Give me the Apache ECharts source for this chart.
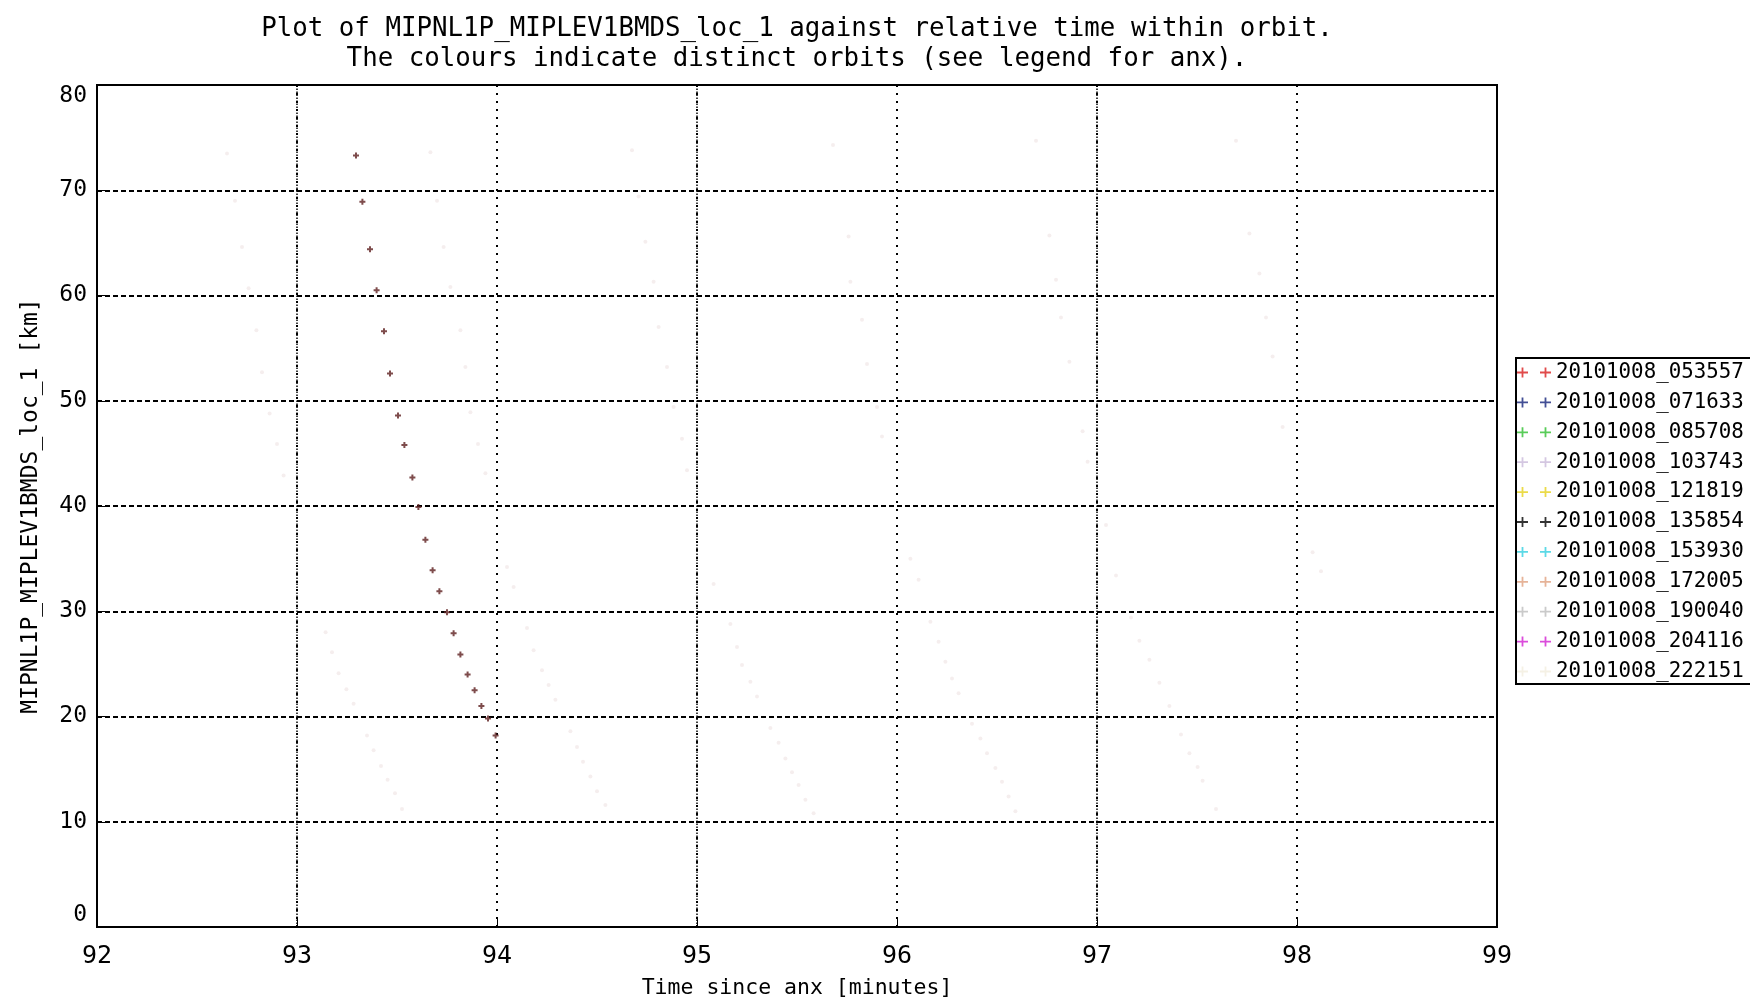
<!DOCTYPE html>
<html>
<head>
<meta charset="utf-8">
<script src="https://cdn.jsdelivr.net/npm/echarts/dist/echarts.min.js"></script>
<style>
  html, body { margin: 0; padding: 0; background: #fff; }
  #chart { width: 1750px; height: 1007px; }
</style>
</head>
<body>
<div id="chart"></div>
<script>
// orbit names (anx) as in legend
const orbitNames = [
  '20101008_053557', '20101008_071633', '20101008_085708', '20101008_103743',
  '20101008_121819', '20101008_135854', '20101008_153930', '20101008_172005',
  '20101008_190040', '20101008_204116', '20101008_222151'
]
const legendColors = [
  '#d81e1e', '#14237a', '#2fbf2f', '#c9b9da', '#e6d21c', '#000000',
  '#33cfe0', '#e0a07e', '#bdbdbd', '#d21fd2', '#f2eedf'
]

// [time since anx (min), altitude (km)]
const orbit053557 = [
  [93.295, 73.3], [93.327, 68.9], [93.365, 64.4], [93.398, 60.5], [93.435, 56.6],
  [93.465, 52.6], [93.505, 48.6], [93.537, 45.8], [93.577, 42.7], [93.607, 39.9],
  [93.642, 36.8], [93.678, 33.9], [93.712, 31.9], [93.750, 29.9], [93.783, 27.9],
  [93.817, 25.9], [93.853, 24.0], [93.888, 22.5], [93.922, 21.0], [93.955, 19.8],
  [93.993, 18.2]
]
// very faint traces of the other orbits
const orbit071633 = [
  [92.650, 73.5], [92.690, 69.0], [92.725, 64.6], [92.758, 60.7], [92.797, 56.7],
  [92.825, 52.7], [92.863, 48.8], [92.900, 45.9], [92.933, 42.9], [93.143, 28.0],
  [93.175, 26.1], [93.208, 24.1], [93.247, 22.6], [93.283, 21.2], [93.350, 18.2],
  [93.383, 16.8], [93.420, 15.3], [93.453, 14.0], [93.490, 12.7], [93.525, 11.2]
]
const orbit085708 = [
  [93.667, 73.6], [93.700, 69.0], [93.733, 64.6], [93.767, 60.8], [93.817, 56.7],
  [93.842, 53.2], [93.867, 48.9], [93.905, 45.9], [93.942, 43.1], [94.050, 34.2],
  [94.083, 32.3], [94.150, 28.4], [94.183, 26.3], [94.225, 24.4], [94.258, 23.0],
  [94.292, 21.6], [94.367, 18.6], [94.400, 17.1], [94.430, 15.7], [94.467, 14.3],
  [94.500, 12.9], [94.542, 11.6]
]
const orbit103743 = [
  [94.675, 73.8], [94.708, 69.4], [94.742, 65.1], [94.783, 61.3], [94.808, 57.0],
  [94.850, 53.2], [94.883, 49.4], [94.925, 46.4], [94.950, 43.4], [95.083, 32.6],
  [95.167, 28.8], [95.200, 26.6], [95.225, 24.9], [95.267, 23.3], [95.300, 21.9],
  [95.367, 18.9], [95.408, 17.5], [95.442, 16.0], [95.475, 14.7], [95.508, 13.5],
  [95.542, 12.1], [95.583, 10.8]
]
const orbit121819 = [
  [95.680, 74.3], [95.758, 65.6], [95.767, 61.3], [95.825, 57.7], [95.850, 53.5],
  [95.900, 49.4], [95.925, 46.6], [96.067, 35.0], [96.108, 33.0], [96.167, 29.0],
  [96.208, 27.1], [96.242, 25.2], [96.275, 23.6], [96.308, 22.2], [96.375, 19.3],
  [96.417, 17.9], [96.450, 16.5], [96.492, 15.1], [96.525, 13.8], [96.558, 12.4],
  [96.592, 11.0]
]
const orbit135854 = [
  [96.695, 74.7], [96.762, 65.7], [96.795, 61.5], [96.820, 57.9], [96.862, 53.7],
  [96.928, 47.1], [96.953, 44.2], [97.045, 38.2], [97.095, 33.4], [97.170, 29.4],
  [97.212, 27.2], [97.262, 25.4], [97.312, 23.2], [97.362, 21.0], [97.420, 18.3],
  [97.462, 16.5], [97.503, 15.2], [97.528, 13.9], [97.595, 11.2]
]
const orbit153930 = [
  [97.695, 74.7], [97.762, 65.9], [97.812, 62.1], [97.845, 57.9], [97.878, 54.2],
  [97.928, 47.5], [98.078, 35.6], [98.120, 33.8]
]
const orbitData = [
  orbit053557, orbit071633, orbit085708, orbit103743, orbit121819,
  orbit135854, orbit153930, [], [], [], []
]

const xTicks = { min: 92, max: 99, step: 1 }
const yTicks = { min: 0, max: 80, step: 10 }
const denseGridX = [93, 95, 97]

const font = 'DejaVu Sans Mono'
const plusIcon = 'path://M0,4.1h11v1.8h-11z M4.6,0h1.8v10h-1.8z M23,4.1h11v1.8h-11z M27.6,0h1.8v10h-1.8z'

const chart = echarts.init(document.getElementById('chart'))

const series = orbitNames.map((name, i) => ({
  name: name,
  type: 'scatter',
  data: orbitData[i],
  symbol: i === 0 ? 'path://M0,3h9v3h-9z M3,0h3v9h-3z' : 'circle',
  symbolSize: i === 0 ? 6 : 4,
  itemStyle: { color: i === 0 ? '#5e1f1f' : '#f3eaea' },
  z: i === 0 ? 5 : 2,
  silent: true
}))

// odd minute gridlines are drawn denser in the original
series.push({
  type: 'line',
  data: [],
  silent: true,
  markLine: {
    symbol: 'none',
    label: { show: false },
    lineStyle: { color: '#000', type: [1.5, 1.5], width: 1.5 },
    data: denseGridX.map(v => ({ xAxis: v }))
  }
})

chart.setOption({
  animation: false,
  backgroundColor: '#fff',
  title: {
    text: 'Plot of MIPNL1P_MIPLEV1BMDS_loc_1 against relative time within orbit.\nThe colours indicate distinct orbits (see legend for anx).',
    left: 797,
    top: 14,
    padding: 0,
    textAlign: 'center',
    textStyle: { fontFamily: font, fontSize: 25.8, fontWeight: 'normal', color: '#000', lineHeight: 30 }
  },
  grid: {
    left: 97, top: 85, right: 253, bottom: 80,
    show: true, borderColor: '#000', borderWidth: 2, backgroundColor: 'transparent'
  },
  legend: {
    orient: 'vertical',
    left: 1516,
    top: 358,
    padding: [4, 40, 2, 1],
    borderColor: '#000',
    borderWidth: 2,
    itemWidth: 34,
    itemHeight: 10,
    itemGap: 8.9,
    icon: plusIcon,
    selectedMode: false,
    textStyle: { fontFamily: font, fontSize: 20.8, color: '#000', lineHeight: 20, padding: [0, 0, 0, 0] },
    data: orbitNames.map((n, i) => ({ name: n, itemStyle: { color: legendColors[i] } }))
  },
  xAxis: {
    type: 'value',
    min: xTicks.min,
    max: xTicks.max,
    interval: xTicks.step,
    name: 'Time since anx [minutes]',
    nameLocation: 'middle',
    nameGap: 50,
    nameTextStyle: { fontFamily: font, fontSize: 21.5, color: '#000' },
    axisLine: { show: true, onZero: false, lineStyle: { color: '#000', width: 2 } },
    axisTick: { show: true, inside: true, length: 8, lineStyle: { color: '#000' } },
    axisLabel: { fontFamily: font, fontSize: 25, color: '#000', margin: 17 },
    splitLine: { show: true, lineStyle: { color: '#000', type: [2, 6], width: 2 } }
  },
  yAxis: {
    type: 'value',
    min: yTicks.min,
    max: yTicks.max,
    interval: yTicks.step,
    name: 'MIPNL1P_MIPLEV1BMDS_loc_1 [km]',
    nameLocation: 'middle',
    nameGap: 54,
    nameTextStyle: { fontFamily: font, fontSize: 23, color: '#000' },
    axisLine: { show: true, onZero: false, lineStyle: { color: '#000', width: 2 } },
    axisTick: { show: true, inside: true, length: 8, lineStyle: { color: '#000' } },
    axisLabel: {
      fontFamily: font, fontSize: 23, color: '#000', margin: 10,
      verticalAlignMinLabel: 'bottom', verticalAlignMaxLabel: 'top'
    },
    splitLine: { show: true, lineStyle: { color: '#000', type: [5, 3], width: 2 } }
  },
  series: series
})
</script>
</body>
</html>
